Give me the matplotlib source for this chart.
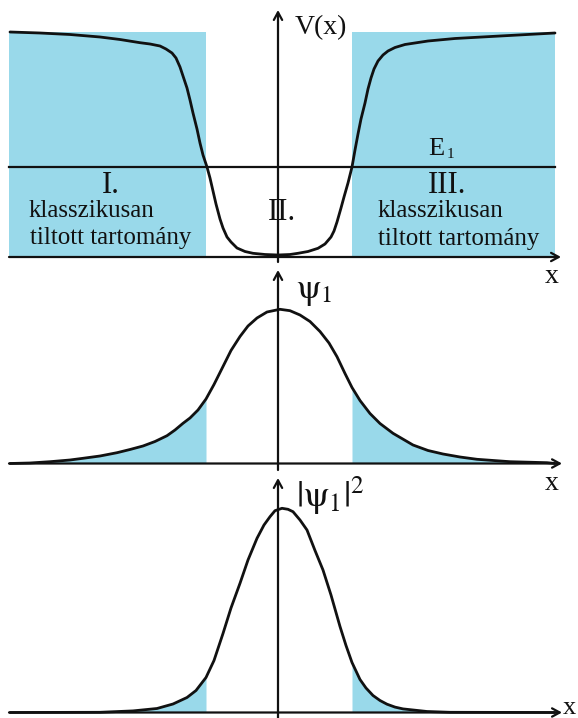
import matplotlib
matplotlib.use("Agg")
import matplotlib.pyplot as plt
import numpy as np

# ---- data: position x in Å (well centre at 0) ----
# potential energy V(x) in meV
v_x = [-26.8, -23.8, -20.8, -17.8, -15.8, -13.8, -12.8, -11.8, -11.2, -10.6,
       -10.2, -9.8, -9.4, -9.1, -8.8, -8.5, -8.1, -7.8, -7.5, -7.1, -6.8,
       -6.5, -6.2, -5.8, -5.5, -5.1, -4.7, -4.1, -3.3, -2.5, -1.3, 0.0,
       1.2, 2.0, 3.0, 4.0, 4.7, 5.3, 5.6, 5.9, 6.3, 6.6, 7.0, 7.4, 7.7, 8.0,
       8.3, 8.7, 9.0, 9.3, 9.6, 10.0, 10.5, 11.0, 11.7, 12.7, 15.0, 17.7,
       22.2, 27.7]
v_meV = [225, 224, 222.5, 220, 217.5, 214.3, 213, 211, 208, 204,
         199, 190, 178, 169, 157, 144, 128, 114, 102, 90, 79,
         66, 53, 38, 29, 20, 15, 9, 5.5, 3.7, 2.5, 2,
         2.5, 3.7, 5.5, 8.7, 13, 20, 26, 35, 49, 60, 74, 90, 107, 123,
         138, 154, 168, 179, 188, 196, 202, 206, 209.5, 212.5, 216, 218.5,
         221, 224]
energy_E1 = 90          # meV
barrier_V0 = 225        # meV
turning_points = [-7.2, 7.4]   # Å, where V(x) = E1
x_span = [-26.9, 27.7]         # Å

# ground-state wave function psi_1(x), arbitrary units
psi_x = [-26.8, -24.8, -22.8, -20.8, -19.5, -17.8, -16.1, -14.8, -13.5, -12.3,
         -11.1, -10.3, -9.5, -8.8, -8.0, -7.2, -6.4, -5.5, -4.7, -3.8, -3.0,
         -2.1, -1.1, 0.2, 1.2, 2.2, 3.2, 4.2, 5.1, 5.9, 6.7, 7.4, 8.2, 9.2,
         10.2, 11.5, 13.5, 15.0, 16.5, 18.2, 19.9, 23.2, 26.9, 27.7]
psi_au = [0, 0.5, 1.8, 3.5, 5.2, 7.5, 10.8, 14, 17.5, 22,
          27.8, 33.5, 40.2, 45.5, 53.5, 64.5, 79, 97, 113, 127, 137.5,
          145.5, 151.5, 154.2, 152.8, 148.5, 142, 132, 120.5, 106.8, 90, 76, 63, 50,
          40, 30.2, 18.5, 13, 9.5, 6.5, 4.2, 1.8, 0.8, 0]

# probability density |psi_1(x)|^2, arbitrary units
prob_x = [-26.8, -17.8, -14.5, -12.1, -10.5, -9.1, -8.2, -7.2, -6.4, -5.5, -4.7,
          -3.8, -3.0, -2.1, -1.4, -0.8, -0.3, 0.4, 1.0, 1.5, 2.2, 2.9, 3.7,
          4.5, 5.3, 6.2, 6.8, 7.4, 8.2, 8.8, 9.5, 10.2, 10.9, 11.7, 12.5,
          14.9, 17.2, 27.7]
prob_au = [0, 0.2, 1.6, 4.0, 8.5, 15, 22, 35, 52, 79, 104.5,
           129.2, 152.5, 174.2, 187.5, 195.8, 201.8, 204.2, 203.2, 200.8, 192.5,
           182.5, 162, 142.5, 117.5, 86, 67, 50, 33, 24.5, 17, 12, 8.3,
           5.4, 3.6, 1.0, 0.2, 0]

# ---- styles ----
BLUE = "#99d9ea"
INK = "#111111"
SERIF = ["Liberation Serif", "DejaVu Serif"]
plt.rcParams["mathtext.fontset"] = "stix"

W, H = 578, 718
fig = plt.figure(figsize=(W / 100, H / 100), dpi=100)

X_LEFT, X_RIGHT = -27.8, 30.0


def make_axes(top_px, bottom_px, y_at_top, y_at_bottom):
    ax = fig.add_axes([0, 1 - bottom_px / H, 1, (bottom_px - top_px) / H])
    ax.set_xlim(X_LEFT, X_RIGHT)
    ax.set_ylim(y_at_bottom, y_at_top)
    ax.axis("off")
    return ax


def arrow(ax, start, tip):
    ax.annotate("", xy=tip, xytext=start, annotation_clip=False,
                arrowprops=dict(arrowstyle="->,head_length=0.55,head_width=0.3",
                                lw=1.6, color=INK, shrinkA=0, shrinkB=0))


x_lo, x_hi = x_span
xt_l, xt_r = turning_points
curve_kw = dict(color=INK, lw=2.0, solid_joinstyle="round", solid_capstyle="round")
tkw = dict(family=SERIF, color=INK)

# ---------------- potential V(x) ----------------
ax1 = make_axes(0, 262, 257, -5)
ax1.fill_between([x_lo, xt_l], 0, barrier_V0, color=BLUE, lw=0)
ax1.fill_between([xt_r, x_hi], 0, barrier_V0, color=BLUE, lw=0)
ax1.plot([x_lo, x_hi], [energy_E1, energy_E1], color=INK, lw=1.6)
ax1.plot(v_x, v_meV, **curve_kw)
arrow(ax1, (x_lo, 0), (28.3, 0))
arrow(ax1, (0, -5), (0, 247))

ax1.text(1.7, 223, "V(x)", fontsize=20, ha="left", va="baseline", **tkw)
ax1.text(15.0, 102, "E", fontsize=19, ha="left", va="baseline", **tkw)
ax1.text(16.9, 99, "1", fontsize=11, ha="left", va="baseline", **tkw)
ax1.text(-16.7, 64, "I.", fontsize=22, ha="center", va="baseline", **tkw)
ax1.text(-18.65, 40, "klasszikusan", fontsize=18, ha="center", va="baseline", **tkw)
ax1.text(-16.75, 13.5, "tiltott tartomány", fontsize=18, ha="center", va="baseline", **tkw)
ax1.text(-1.0, 37, "II.", fontsize=22, ha="left", va="baseline", **tkw)
ax1.text(15.0, 64, "III.", fontsize=22, ha="left", va="baseline", **tkw)
ax1.text(10.0, 40, "klasszikusan", fontsize=18, ha="left", va="baseline", **tkw)
ax1.text(10.0, 12, "tiltott tartomány", fontsize=18, ha="left", va="baseline", **tkw)

# ---------------- wave function psi_1 ----------------
ax2 = make_axes(262, 470, 201.5, -6.5)
px = np.array(psi_x)
pv = np.array(psi_au)
ax2.fill_between(px, 0, pv, where=px <= xt_l, color=BLUE, lw=0)
ax2.fill_between(px, 0, pv, where=px >= xt_r, color=BLUE, lw=0)
ax2.plot(psi_x, psi_au, **curve_kw)
arrow(ax2, (x_lo, 0), (28.4, 0))
arrow(ax2, (0, -6.5), (0, 193.5))
ax2.text(1.8, 173, r"$\mathrm{\psi}_1$", fontsize=25, ha="left", va="center", color=INK)

# ---------------- probability density ----------------
ax3 = make_axes(470, 718, 242.5, -5.5)
qx = np.array(prob_x)
qv = np.array(prob_au)
ax3.fill_between(qx, 0, qv, where=qx <= xt_l, color=BLUE, lw=0)
ax3.fill_between(qx, 0, qv, where=qx >= xt_r, color=BLUE, lw=0)
ax3.plot(prob_x, prob_au, **curve_kw)
arrow(ax3, (x_lo, 0), (28.4, 0))
arrow(ax3, (0, -5.5), (0, 234.5))
ax3.text(1.8, 217, r"$|\mathrm{\psi}_1|^2$", fontsize=26, ha="left", va="center", color=INK)

# axis names at the ends of the x axes
fig.text(552 / W, 1 - 277 / H, "x", fontsize=20, ha="center", va="center", **tkw)
fig.text(552 / W, 1 - 483 / H, "x", fontsize=20, ha="center", va="center", **tkw)
fig.text(576 / W, 1 - 708 / H, "x", fontsize=19, ha="right", va="center", **tkw)

fig.savefig("out.png", dpi=100, facecolor="white")
